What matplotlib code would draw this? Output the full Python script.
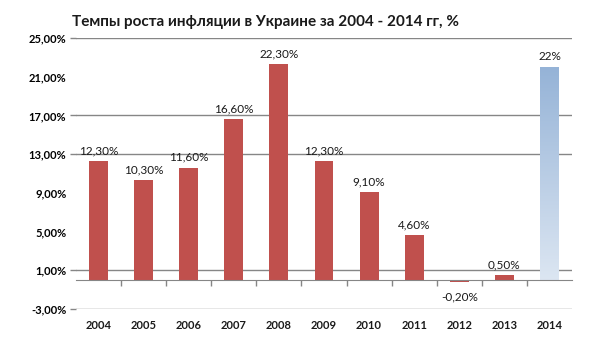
import numpy as np
import matplotlib.pyplot as plt
from matplotlib.colors import LinearSegmentedColormap
import matplotlib.transforms as mtransforms

plt.rcParams['font.family'] = ['Lato', 'DejaVu Sans']

# Data
years = ['2004', '2005', '2006', '2007', '2008', '2009', '2010', '2011', '2012', '2013', '2014']
inflation = [12.3, 10.3, 11.6, 16.6, 22.3, 12.3, 9.1, 4.6, -0.2, 0.5, 22.0]
value_labels = ['12,30%', '10,30%', '11,60%', '16,60%', '22,30%', '12,30%',
                '9,10%', '4,60%', '-0,20%', '0,50%', '22%']
y_ticks = [-3, 1, 5, 9, 13, 17, 21, 25]
y_tick_labels = ['-3,00%', '1,00%', '5,00%', '9,00%', '13,00%', '17,00%', '21,00%', '25,00%']
visible_grid = [-3, 1, 13, 17, 25]

red = '#C0504D'
grey = '#868686'
bar_w = 0.42

fig = plt.figure(figsize=(5.89, 3.47), dpi=100)
ax = fig.add_axes([76 / 589, 1 - 309 / 347, (572 - 76) / 589, (309 - 38) / 347])

x = np.arange(len(years))

# red bars for the first 10 years
ax.bar(x[:-1], inflation[:-1], width=bar_w, color=red, zorder=3)

# gradient bar for 2014
cmap = LinearSegmentedColormap.from_list('blue_grad', ['#DCE6F2', '#95B3D7'])
grad = np.linspace(0, 1, 256).reshape(-1, 1)
ax.imshow(grad, cmap=cmap, origin='lower', aspect='auto', zorder=3,
          extent=[x[-1] - bar_w / 2, x[-1] + bar_w / 2, 0, inflation[-1]])

ax.set_xlim(-0.5, len(years) - 0.5)
ax.set_ylim(-3, 25)

# value labels
for xi, v, lab in zip(x, inflation, value_labels):
    if v >= 0:
        ax.text(xi, v + 0.5, lab, ha='center', va='bottom', fontsize=8.5, color='#1a1a1a')
    else:
        ax.text(xi, v - 1.0, lab, ha='center', va='top', fontsize=8.5, color='#1a1a1a')

# y axis labels and gridlines
ax.yaxis.remove_overlapping_locs = False
ax.set_yticks(y_ticks)
ax.set_yticklabels(y_tick_labels, fontsize=8, fontweight='bold')
ax.tick_params(axis='y', which='major', length=0, pad=7)
ax.set_yticks(visible_grid, minor=True)
ax.tick_params(axis='y', which='minor', length=4, color=grey, width=1)
ax.yaxis.grid(True, which='minor', color=grey, linewidth=1)
ax.set_axisbelow(True)

# x axis at zero with ticks between categories
for s in ['top', 'right', 'left']:
    ax.spines[s].set_visible(False)
ax.spines['bottom'].set_position(('data', 0))
ax.spines['bottom'].set_color(grey)
ax.spines['bottom'].set_zorder(4)
ax.set_xticks(x[:-1] + 0.5)
ax.set_xticklabels([])
ax.tick_params(axis='x', length=4, color=grey, width=1)

# year labels below the plot
trans = mtransforms.blended_transform_factory(ax.transData, ax.transAxes)
for xi, yr in zip(x, years):
    ax.text(xi, -0.06, yr, transform=trans, ha='center', va='center',
            fontsize=8, fontweight='bold', color='#1a1a1a')

fig.text(0.45, 1 - 22 / 347, 'Темпы роста инфляции в Украине за 2004 - 2014 гг, %',
         ha='center', va='center', fontsize=11, fontweight='bold', color='#1a1a1a')

fig.savefig('out.png', dpi=100)
